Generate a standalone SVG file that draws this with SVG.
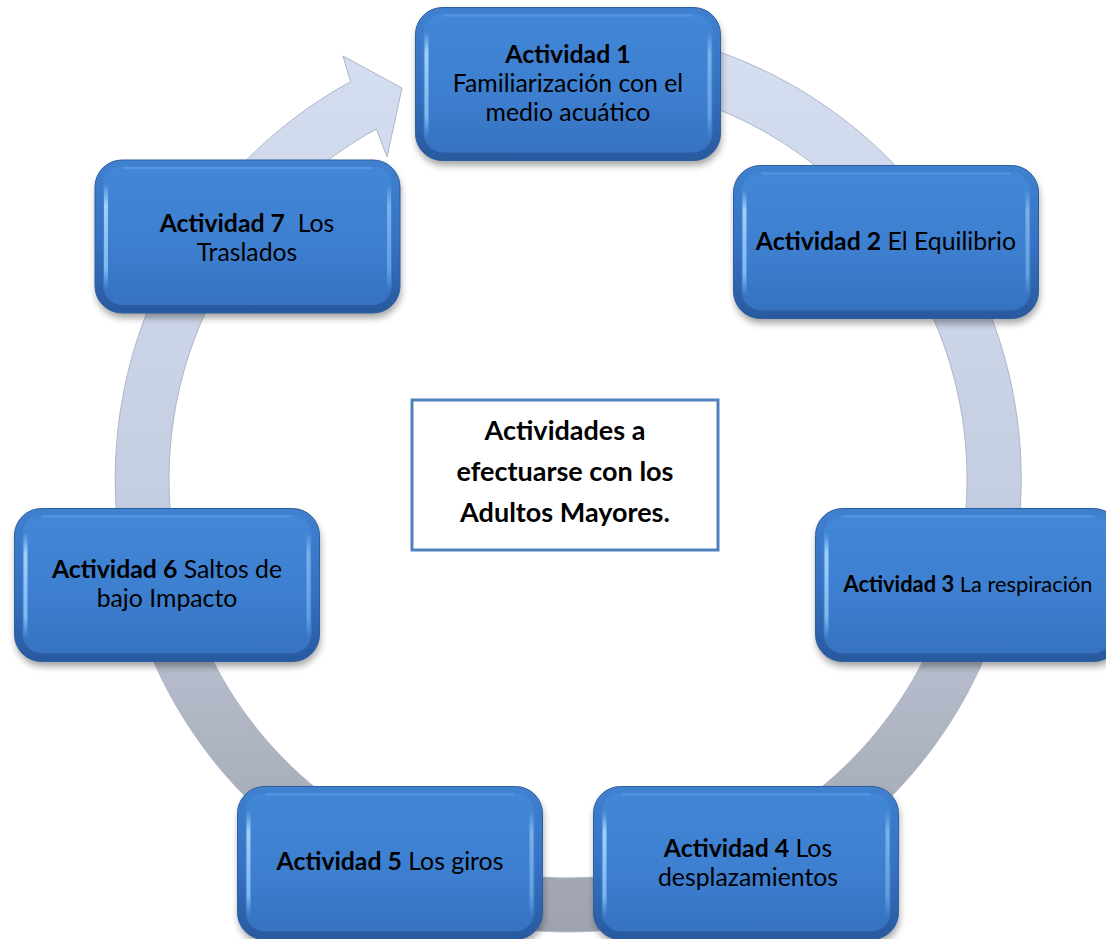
<svg xmlns="http://www.w3.org/2000/svg" xmlns:xlink="http://www.w3.org/1999/xlink" width="1106" height="939" viewBox="0 0 1106 939">
<style>
  text { font-family: Lato, "Liberation Sans", sans-serif; fill: #000; text-anchor: middle; white-space: pre; }
  .t { font-size: 24.8px; }
  .s { font-size: 21.9px; }
  .b { font-weight: bold; }
  .c { font-size: 27px; font-weight: bold; }
</style>
<defs>
  <linearGradient id="ringGrad" gradientUnits="userSpaceOnUse" x1="0" y1="26" x2="0" y2="932">
    <stop offset="0" stop-color="#d6dff1"/>
    <stop offset="0.5" stop-color="#c6cfe2"/>
    <stop offset="0.83" stop-color="#abb0bd"/>
    <stop offset="1" stop-color="#9fa3ae"/>
  </linearGradient>
  <linearGradient id="edgeGrad" x1="0" y1="0" x2="0" y2="1">
    <stop offset="0" stop-color="#3f80cf"/>
    <stop offset="0.5" stop-color="#3773c3"/>
    <stop offset="1" stop-color="#28599f"/>
  </linearGradient>
  <linearGradient id="faceGrad" x1="0" y1="0" x2="0" y2="1">
    <stop offset="0" stop-color="#4287d7"/>
    <stop offset="0.6" stop-color="#3d7ecf"/>
    <stop offset="1" stop-color="#3672c0"/>
  </linearGradient>
  <linearGradient id="hiL" x1="0" y1="0" x2="0" y2="1">
    <stop offset="0" stop-color="#b5e0ff" stop-opacity="0"/>
    <stop offset="0.2" stop-color="#a9d9ff" stop-opacity="0.9"/>
    <stop offset="0.8" stop-color="#8cc6f7" stop-opacity="0.8"/>
    <stop offset="1" stop-color="#8cc6f7" stop-opacity="0"/>
  </linearGradient>
  <filter id="shadow" x="-10%" y="-10%" width="120%" height="130%">
    <feGaussianBlur stdDeviation="3.5"/>
  </filter>
  <g id="box">
    <rect x="1" y="5" width="305" height="153" rx="27" fill="#000" opacity="0.35" filter="url(#shadow)"/>
    <rect x="0" y="0" width="305" height="153" rx="27" fill="url(#edgeGrad)" stroke="#2d5f9f" stroke-width="1"/>
    <rect x="8" y="6" width="289" height="139" rx="20" fill="url(#faceGrad)"/>
    <rect x="9" y="24" width="4" height="106" rx="2" fill="url(#hiL)"/>
    <rect x="292" y="24" width="4" height="106" rx="2" fill="url(#hiL)" opacity="0.6"/>
    <rect x="28" y="7" width="249" height="2" rx="1" fill="#6aa6ea" opacity="0.5"/>
  </g>
</defs>

<g id="connectors">
  <path d="M473.8,35.9 A453,453 0 1 1 350.5,81.7 L343,56 L402,88 L387,157 L376.4,129 A399,399 0 1 0 485,88.7 Z" fill="url(#ringGrad)" stroke="#aeb6c8" stroke-width="1"/>
</g>

<g id="center">
  <rect x="412" y="400" width="306" height="150" fill="#fff" stroke="#4f81bd" stroke-width="3"/>
  <text class="c" x="565" y="440">Actividades a</text>
  <text class="c" x="565" y="481">efectuarse con los</text>
  <text class="c" x="565" y="522">Adultos Mayores.</text>
</g>

<g id="node1">
  <use xlink:href="#box" x="415.5" y="7.5"/>
  <text class="t" x="568" y="63"><tspan class="b">Actividad 1</tspan></text>
  <text class="t" x="568" y="92">Familiarización con el</text>
  <text class="t" x="568" y="121">medio acuático</text>
</g>

<g id="node2">
  <use xlink:href="#box" x="733.5" y="165.5"/>
  <text class="t" x="886" y="250"><tspan class="b">Actividad 2</tspan> El Equilibrio</text>
</g>

<g id="node3">
  <use xlink:href="#box" x="815.5" y="508.5"/>
  <text class="s" x="968" y="592"><tspan class="b">Actividad 3</tspan> La respiración</text>
</g>

<g id="node4">
  <use xlink:href="#box" x="593.5" y="786.5"/>
  <text class="t" x="748" y="857"><tspan class="b">Actividad 4</tspan> Los</text>
  <text class="t" x="748" y="886">desplazamientos</text>
</g>

<g id="node5">
  <use xlink:href="#box" x="237.5" y="786.5"/>
  <text class="t" x="390" y="870"><tspan class="b">Actividad 5</tspan> Los giros</text>
</g>

<g id="node6">
  <use xlink:href="#box" x="14.5" y="508.5"/>
  <text class="t" x="167" y="578"><tspan class="b">Actividad 6</tspan> Saltos de</text>
  <text class="t" x="167" y="607">bajo Impacto</text>
</g>

<g id="node7">
  <use xlink:href="#box" x="95" y="160"/>
  <text class="t" x="247" y="232"><tspan class="b">Actividad 7</tspan>  Los</text>
  <text class="t" x="247" y="261">Traslados</text>
</g>
</svg>
